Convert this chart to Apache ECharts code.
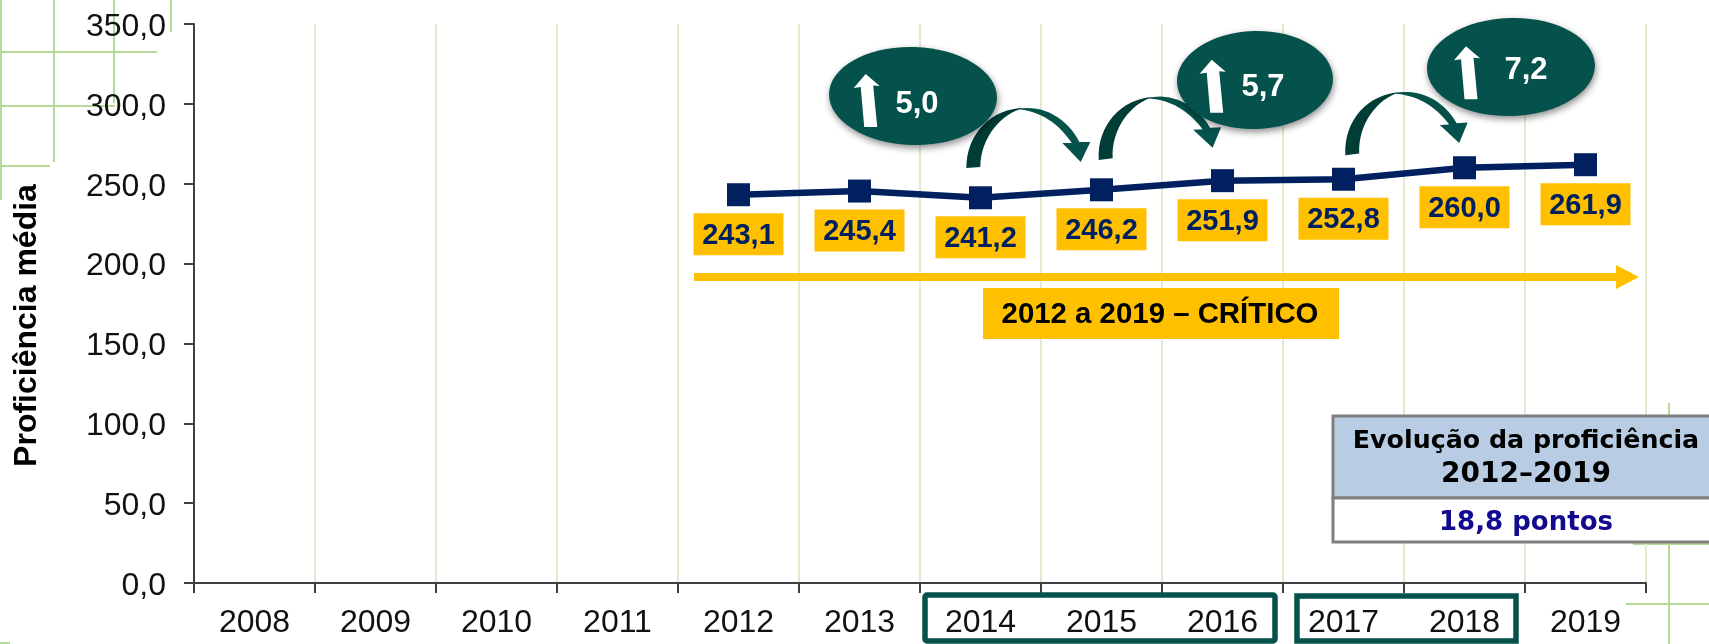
<!DOCTYPE html>
<html>
<head>
<meta charset="UTF-8">
<script src="https://cdn.jsdelivr.net/npm/echarts@6/dist/echarts.min.js"></script>
<title>Proficiência média</title>
<style>
html, body { margin: 0; padding: 0; background: #fff; }
#main { width: 1709px; height: 644px; }
</style>
</head>
<body>
<div id="main"></div>
<script>
var anos = ['2008', '2009', '2010', '2011', '2012', '2013', '2014', '2015', '2016', '2017', '2018', '2019'];
var proficiencia = [null, null, null, null, 243.1, 245.4, 241.2, 246.2, 251.9, 252.8, 260.0, 261.9];
var ganhos = ['5,0', '5,7', '7,2'];

var TEAL = '#04524b', DARK = '#003d37', GOLD = '#ffc000', NAVY = '#002060', LEAF = '#b4dc98';

function virgula(v) { return v.toFixed(1).replace('.', ','); }

function linha(x1, y1, x2, y2) {
    return { type: 'line', z: 0, shape: { x1: x1, y1: y1, x2: x2, y2: y2 }, style: { stroke: LEAF, lineWidth: 2 } };
}

// elipse com o ganho + seta branca
function balao(cx, cy, rx, rot, dx, dy, tx, ty, txt) {
    return [{
        type: 'ellipse', z: 12, x: cx, y: cy, rotation: rot,
        shape: { cx: 0, cy: 0, rx: rx, ry: 49 },
        style: { fill: TEAL, shadowBlur: 7, shadowColor: 'rgba(0,0,0,0.45)', shadowOffsetY: 3, shadowOffsetX: 1 }
    }, {
        type: 'polygon', z: 13, x: dx, y: dy,
        shape: { points: [[0, 0], [14, 12], [7.5, 11.5], [11.5, 53], [-1.5, 53], [-5, 13], [-12, 14]] },
        style: { fill: '#fff' }
    }, {
        type: 'text', z: 14, x: tx, y: ty,
        style: { text: txt, fill: '#fff', font: 'bold 31px "Liberation Sans"', textAlign: 'center', textVerticalAlign: 'middle' }
    }];
}

// pontos de uma bezier para usar em polygon (graphic nao tem path)
function bez(p0, p1, p2, p3) {
    var pts = [];
    for (var i = 0; i <= 16; i++) {
        var t = i / 16, u = 1 - t;
        pts.push([
            u * u * u * p0[0] + 3 * u * u * t * p1[0] + 3 * u * t * t * p2[0] + t * t * t * p3[0],
            u * u * u * p0[1] + 3 * u * u * t * p1[1] + 3 * u * t * t * p2[1] + t * t * t * p3[1]
        ]);
    }
    return pts;
}

// seta curva, escura na subida
function curva(x, y, rot) {
    var sobe = bez([0, 0], [0, -35], [26, -60], [58, -60]).concat(bez([58, -60], [35, -55], [14, -30], [14, -1]));
    var desce = bez([52, -59], [76, -64], [101, -50], [113, -26])
        .concat([[124, -26], [114.4, -6], [96, -25], [105.4, -25]])
        .concat(bez([105.4, -25], [92, -45], [75, -56], [52, -59]));
    return [
        { type: 'polygon', z: 10, x: x, y: y, rotation: rot, shape: { points: sobe }, style: { fill: DARK } },
        { type: 'polygon', z: 10, x: x, y: y, rotation: rot, shape: { points: desce }, style: { fill: TEAL } }
    ];
}

var graficos = [
    linha(0, 52, 157, 52), linha(0, 106, 115, 106), linha(0, 166, 50, 166),
    linha(54, 0, 54, 162), linha(114, 0, 114, 103), linha(171, 0, 171, 32), linha(1, 0, 1, 200),
    linha(1669, 403, 1669, 644), linha(1626, 604, 1709, 604), linha(1633, 544, 1709, 544),
    linha(0, 643, 10, 643),

    // seta e faixa amarela
    { type: 'rect', z: 8, shape: { x: 694, y: 273, width: 923, height: 8 }, style: { fill: GOLD } },
    { type: 'polygon', z: 8, shape: { points: [[1616, 265], [1639, 277], [1616, 289]] }, style: { fill: GOLD } },
    { type: 'rect', z: 8, shape: { x: 983, y: 288, width: 356, height: 51 }, style: { fill: GOLD } },
    { type: 'text', z: 9, x: 1160, y: 315, style: { text: '2012 a 2019 – CRÍTICO', fill: '#000', font: 'bold 29.4px "Liberation Sans"', textAlign: 'center', textVerticalAlign: 'middle' } },

    // quadro
    { type: 'rect', z: 8, shape: { x: 1333, y: 416, width: 390, height: 82 }, style: { fill: '#b8cce4', stroke: '#7f7f7f', lineWidth: 3 } },
    { type: 'rect', z: 8, shape: { x: 1333, y: 498, width: 390, height: 44 }, style: { fill: '#fff', stroke: '#7f7f7f', lineWidth: 3 } },
    { type: 'text', z: 9, x: 1526, y: 441, style: { text: 'Evolução da proficiência', fill: '#000', font: 'bold 25.3px "DejaVu Sans"', textAlign: 'center', textVerticalAlign: 'middle' } },
    { type: 'text', z: 9, x: 1526, y: 475, style: { text: '2012–2019', fill: '#000', font: 'bold 28px "DejaVu Sans"', textAlign: 'center', textVerticalAlign: 'middle' } },
    { type: 'text', z: 9, x: 1526, y: 523, style: { text: '18,8 pontos', fill: '#120a8f', font: 'bold 26px "DejaVu Sans"', textAlign: 'center', textVerticalAlign: 'middle' } },

    // molduras dos anos
    { type: 'rect', z: 8, shape: { x: 925, y: 595, width: 350, height: 46, r: 2 }, style: { fill: 'none', stroke: TEAL, lineWidth: 5.5 } },
    { type: 'rect', z: 8, shape: { x: 1297, y: 596, width: 219, height: 45 }, style: { fill: 'none', stroke: TEAL, lineWidth: 5.5 } }
];

graficos = graficos
    .concat(curva(966.3, 168, 0), curva(1098.7, 160, 0.055), curva(1345.3, 155.3, 0.055))
    .concat(balao(913, 96, 84, -0.03, 865.7, 74, 917, 104, ganhos[0]))
    .concat(balao(1255, 80, 78, 0.03, 1211.7, 59.7, 1263, 87, ganhos[1]))
    .concat(balao(1511, 67, 84, 0.03, 1466, 46.3, 1526, 70, ganhos[2]));

var myChart = echarts.init(document.getElementById('main'));

var option = {
    animation: false,
    grid: { left: 194, top: 24, width: 1452, height: 559 },
    xAxis: {
        type: 'category',
        data: anos,
        boundaryGap: true,
        axisLine: { lineStyle: { color: '#404040', width: 2 } },
        axisTick: { show: true, alignWithLabel: false, length: 10, lineStyle: { color: '#404040', width: 2 } },
        axisLabel: { interval: 0, margin: 24, color: '#111', fontFamily: 'Liberation Sans', fontSize: 32 },
        splitLine: { show: true, interval: 0, lineStyle: { color: '#e3ead0', width: 2 } }
    },
    yAxis: {
        type: 'value',
        min: 0,
        max: 350,
        interval: 50,
        name: 'Proficiência média',
        nameLocation: 'middle',
        nameGap: 151,
        nameTextStyle: { color: '#000', fontFamily: 'Liberation Sans', fontWeight: 'bold', fontSize: 32, padding: [0, 44, 0, 0] },
        axisLine: { show: true, lineStyle: { color: '#404040', width: 2 } },
        axisTick: { show: true, length: 10, lineStyle: { color: '#404040', width: 2 } },
        axisLabel: {
            margin: 28,
            formatter: function (v) { return '{v|' + virgula(v) + '}'; },
            rich: { v: { padding: [6, 0, 0, 0], color: '#111', fontFamily: 'Liberation Sans', fontSize: 32 } }
        },
        splitLine: { show: false }
    },
    series: [{
        type: 'line',
        data: proficiencia,
        z: 5,
        symbol: 'rect',
        symbolSize: 23,
        lineStyle: { color: NAVY, width: 6.5 },
        itemStyle: { color: NAVY },
        label: {
            show: true,
            position: 'bottom',
            distance: 7,
            formatter: function (p) { return virgula(p.value); },
            color: NAVY,
            fontFamily: 'Liberation Sans',
            fontWeight: 'bold',
            fontSize: 29,
            backgroundColor: GOLD,
            padding: [3, 0, 0, 0],
            width: 90,
            height: 39,
            lineHeight: 39,
            align: 'center'
        }
    }],
    graphic: { elements: graficos }
};

myChart.setOption(option);
</script>
</body>
</html>
